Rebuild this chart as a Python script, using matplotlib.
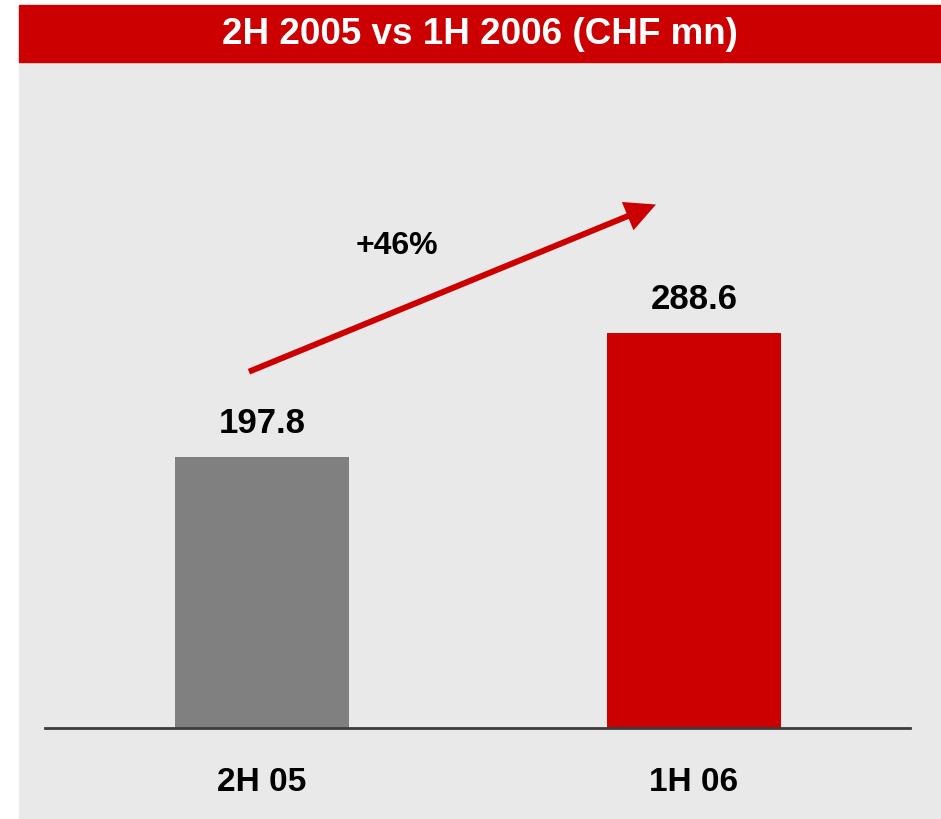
import matplotlib.pyplot as plt
from matplotlib.patches import Rectangle

plt.rcParams['font.family'] = ['Liberation Sans', 'DejaVu Sans']

# data
categories = ['2H 05', '1H 06']
values = [197.8, 288.6]
bar_colors = ['#808080', '#CC0000']
growth_label = '+46%'
title = '2H 2005 vs 1H 2006 (CHF mn)'

W, H = 941, 819
fig = plt.figure(figsize=(W / 100, H / 100), dpi=100, facecolor='white')

# grey panel and red title bar (pixel coords -> figure fraction)
fig.patches.append(Rectangle((19 / W, 0), (W - 19) / W, (H - 62) / H,
                             transform=fig.transFigure, color='#E9E9E9', zorder=-2))
fig.patches.append(Rectangle((19 / W, (H - 62) / H), (W - 19) / W, 57 / H,
                             transform=fig.transFigure, color='#CC0000', zorder=-2))
fig.text(480 / W, 1 - 35 / H, title, color='white', fontsize=26.5,
         fontweight='bold', ha='center', va='center')

ax = fig.add_axes([45 / W, (H - 728) / H, 865 / W, (728 - 62) / H])
ax.set_facecolor('none')
x = list(range(len(categories)))
ax.bar(x, values, width=0.403, color=bar_colors, zorder=2)
ax.set_xlim(-0.502, 1.5)
ax.set_ylim(0, 486)

for s in ['top', 'right', 'left']:
    ax.spines[s].set_visible(False)
ax.spines['bottom'].set_color('#3C3C3C')
ax.spines['bottom'].set_linewidth(2)
ax.spines['bottom'].set_zorder(3)
ax.set_yticks([])
ax.set_xticks([])

# value labels and category labels
for xi, v, c in zip(x, values, categories):
    ax.annotate(f'{v:.1f}', (xi, v), xytext=(0, 24), textcoords='offset points',
                ha='center', va='center', fontsize=25, fontweight='bold')
    ax.text(xi, -40, c, ha='center', va='center', fontsize=24,
            fontweight='bold', clip_on=False)

# growth arrow
ax.annotate('', xy=(0.912, 382), xytext=(-0.03, 260),
            arrowprops=dict(width=4.3, headwidth=22, headlength=22, shrink=0,
                            facecolor='#CC0000', edgecolor='none'))
ax.text(0.3125, 351.6, growth_label, ha='center', va='center',
        fontsize=23, fontweight='bold')

fig.savefig('out.png', dpi=100, facecolor=fig.get_facecolor())
